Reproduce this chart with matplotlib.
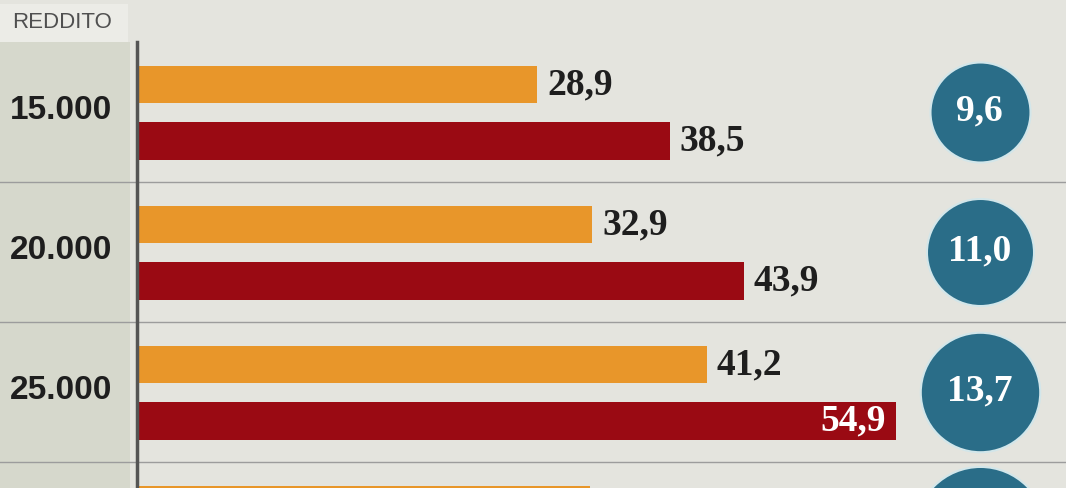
import matplotlib
matplotlib.use('Agg')
import matplotlib.pyplot as plt
from matplotlib.patches import Rectangle

# data
categories = ['15.000', '20.000', '25.000', '']
orange_vals = [28.9, 32.9, 41.2, 32.7]
red_vals = [38.5, 43.9, 54.9, 47.4]
circle_vals = [9.6, 11.0, 13.7, 16.5]
header = 'REDDITO'

bg = '#e4e4de'
col_bg = '#d6d8cc'
orange = '#e8962a'
red = '#9a0a13'
teal = '#2a6d88'
ink = '#1e1e1e'

fig = plt.figure(figsize=(10.66, 4.88), dpi=100)
fig.patch.set_facecolor(bg)
ax = fig.add_axes([0, 0, 1, 1])
ax.set_facecolor(bg)

px = 13.78  # pixels per unit on the value axis
x0 = -139 / px
ax.set_xlim(x0, (1066 - 139) / px)
ax.set_ylim((488 - 112) / 140, -112 / 140)
ax.axis('off')

# label column and header box
ax.axvspan(x0, -9 / px, ymin=0, ymax=(488 - 42) / 488, color=col_bg, lw=0, zorder=0)
ax.add_patch(Rectangle((0, (488 - 42) / 488), 128 / 1066, 38 / 488,
                       transform=ax.transAxes, color='#ececE7', lw=0, zorder=0.5))
ax.text(x0 + 12 / px, -0.64, header, fontsize=16, color='#505050',
        family='Liberation Sans', va='center', ha='left', zorder=2)
ax.plot([-2 / px, -2 / px], [-0.5, 3], color='#555555', lw=2.5, zorder=3)

for i in range(len(categories)):
    ax.axhline(i + 0.5, color='#9c9c9c', lw=1, zorder=1)

serif = 'Liberation Serif'
for i, cat in enumerate(categories):
    yo, yr = i - 0.196, i + 0.205
    ax.barh(yo, orange_vals[i], height=0.27, left=0, color=orange, zorder=2)
    ax.barh(yr, red_vals[i], height=0.27, left=0, color=red, zorder=2)
    ax.scatter(61.0, i, s=540 * circle_vals[i], color=teal,
               edgecolor='#d2e6ea', linewidth=1.5, zorder=3)
    if not cat:
        continue  # last row is cut by the bottom edge

    ax.text(x0 + 10 / px, i - 0.01, cat, fontsize=24, fontweight='bold',
            family='Liberation Sans', color=ink, va='center', ha='left')

    txt = f'{orange_vals[i]:.1f}'.replace('.', ',')
    ax.text(orange_vals[i] + 10 / px, yo, txt, fontsize=27, fontweight='bold',
            family=serif, color=ink, va='center', ha='left')
    txt = f'{red_vals[i]:.1f}'.replace('.', ',')
    if red_vals[i] > 50:
        ax.text(red_vals[i] - 10 / px, yr, txt, fontsize=27, fontweight='bold',
                family=serif, color='white', va='center', ha='right', zorder=4)
    else:
        ax.text(red_vals[i] + 10 / px, yr, txt, fontsize=27, fontweight='bold',
                family=serif, color=ink, va='center', ha='left')

    ax.text(61.0, i - 0.01, f'{circle_vals[i]:.1f}'.replace('.', ','),
            fontsize=27, fontweight='bold', family=serif, color='white',
            va='center', ha='center', zorder=4)

fig.savefig('out.png', dpi=100, facecolor=bg)
